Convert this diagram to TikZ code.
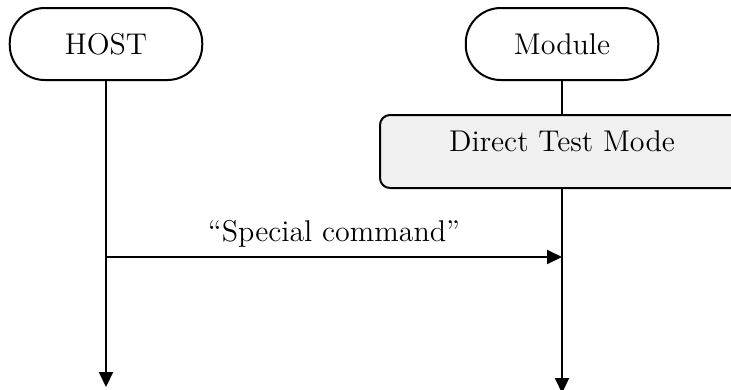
\documentclass[tikz,border=0pt]{standalone}
\usetikzlibrary{arrows.meta}
\begin{document}
\begin{tikzpicture}[x=0.4pt,y=-0.4pt,line width=0.8pt,>={Triangle[width=5.6pt,length=6pt]},
  actor/.style={draw,rounded corners=14pt,minimum width=77pt,minimum height=28.8pt,font=\large},
  modebox/.style={draw,fill=black!6,rounded corners=4pt}]
\useasboundingbox (0,0) rectangle (731,389);
\node[actor] (host) at (106,44) {HOST};
\node[actor] (module) at (562,44) {Module};
\draw[modebox] (380,115) rectangle (760,188);
\node[font=\large] (dtm) at (562,141) {Direct Test Mode};
\coordinate (dtmtop) at (562,115);
\coordinate (dtmbot) at (562,188);
\coordinate (hostend) at (106,387);
\coordinate (modend) at (562,393);
\coordinate (cmdfrom) at (106,257);
\coordinate (cmdto) at (562,257);
\draw[->] (host) -- (hostend);
\draw (module) -- (dtmtop);
\draw[->] (dtmbot) -- (modend);
\draw[->] (cmdfrom) -- node[above,font=\large] {``Special command''} (cmdto);
\end{tikzpicture}
\end{document}
